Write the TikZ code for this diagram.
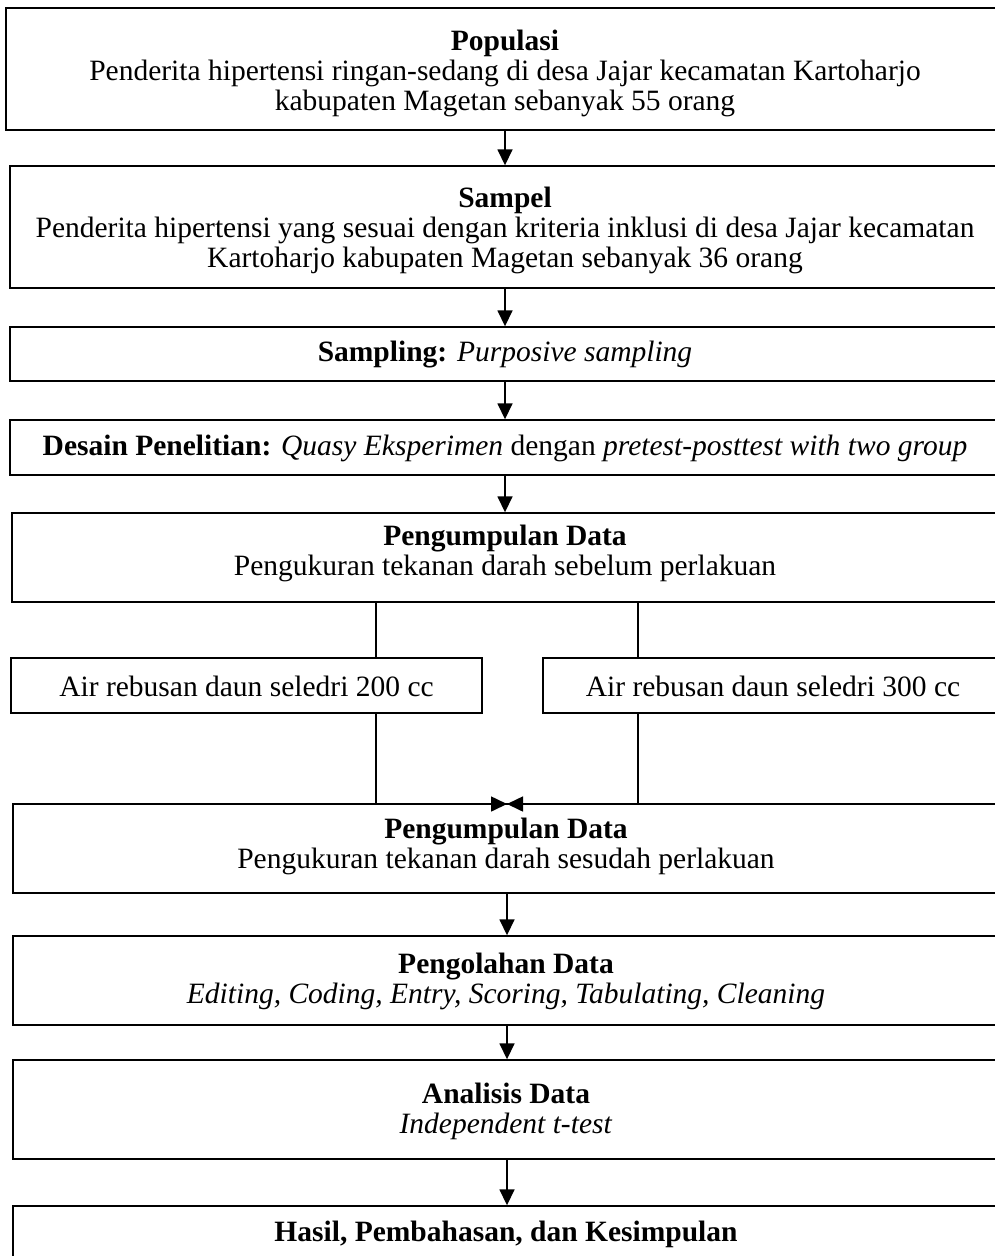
\documentclass[tikz,border=0pt]{standalone}
\usepackage{fontspec}
\setmainfont{Liberation Serif}
\usetikzlibrary{arrows.meta}
\begin{document}
\begin{tikzpicture}[x=1pt,y=-1pt,
  box/.style={draw,line width=1.4pt,rectangle,inner sep=0pt},
  txt/.style={inner sep=0pt,align=center,font=\fontsize{29.5}{30}\selectfont},
  arr/.style={line width=1.6pt,-{Triangle[length=16pt,width=15pt]}},
  conn/.style={line width=1.4pt}]
\useasboundingbox (0,0) rectangle (995,1256);
\clip (0,0) rectangle (995,1256);
% boxes
\node[box,minimum width=998pt,minimum height=122pt] (b1) at (505,69) {};
\node[box,minimum width=990pt,minimum height=122pt] (b2) at (505,227) {};
\node[box,minimum width=990pt,minimum height=54pt] (b3) at (505,354) {};
\node[box,minimum width=990pt,minimum height=55pt] (b4) at (505,447.5) {};
\node[box,minimum width=988pt,minimum height=89pt] (b5) at (506,557.5) {};
\node[box,minimum width=471pt,minimum height=55pt] (lb) at (246.5,685.5) {};
\node[box,minimum width=460pt,minimum height=55pt] (rb) at (773,685.5) {};
\node[box,minimum width=987pt,minimum height=89pt] (b6) at (506.5,848.5) {};
\node[box,minimum width=987pt,minimum height=89pt] (b7) at (506.5,980.5) {};
\node[box,minimum width=987pt,minimum height=99pt] (b8) at (506.5,1109.5) {};
\node[box,minimum width=987pt,minimum height=56pt] (b9) at (506.5,1234) {};
% texts
\node[txt] (t1) at (505,73)
  {\textbf{Populasi}\\Penderita hipertensi ringan-sedang di desa Jajar kecamatan Kartoharjo\\kabupaten Magetan sebanyak 55 orang};
\node[txt] (t2) at (505,230)
  {\textbf{Sampel}\\Penderita hipertensi yang sesuai dengan kriteria inklusi di desa Jajar kecamatan\\Kartoharjo kabupaten Magetan sebanyak 36 orang};
\node[txt] (t3) at (505,355)
  {\textbf{Sampling:} \textit{Purposive sampling}};
\node[txt] (t4) at (505,448)
  {\textbf{Desain Penelitian:} \textit{Quasy Eksperimen} dengan \textit{pretest-posttest with two group}};
\node[txt] (t5) at (505,553)
  {\textbf{Pengumpulan Data}\\Pengukuran tekanan darah sebelum perlakuan};
\node[txt] (tl) at (246.5,686)
  {Air rebusan daun seledri 200 cc};
\node[txt] (tr) at (773,686)
  {Air rebusan daun seledri 300 cc};
\node[txt] (t6) at (506,846)
  {\textbf{Pengumpulan Data}\\Pengukuran tekanan darah sesudah perlakuan};
\node[txt] (t7) at (506,981)
  {\textbf{Pengolahan Data}\\\textit{Editing, Coding, Entry, Scoring, Tabulating, Cleaning}};
\node[txt] (t8) at (506,1111)
  {\textbf{Analisis Data}\\\textit{Independent t-test}};
\node[txt] (t9) at (506,1234)
  {\textbf{Hasil, Pembahasan, dan Kesimpulan}};
% connectors
\coordinate (ax) at (505,0);
\coordinate (lx) at (376,0);
\coordinate (rx) at (638,0);
\coordinate (m) at (507,804);
\draw[arr] (b1.south -| ax) -- (b2.north -| ax);
\draw[arr] (b2.south -| ax) -- (b3.north -| ax);
\draw[arr] (b3.south -| ax) -- (b4.north -| ax);
\draw[arr] (b4.south -| ax) -- (b5.north -| ax);
\draw[conn] (b5.south -| lx) -- (lb.north -| lx);
\draw[conn] (b5.south -| rx) -- (rb.north -| rx);
\draw[arr] (lb.south -| lx) |- (m);
\draw[arr] (rb.south -| rx) |- (m);
\draw[arr] (b6.south -| m) -- (b7.north -| m);
\draw[arr] (b7.south -| m) -- (b8.north -| m);
\draw[arr] (b8.south -| m) -- (b9.north -| m);
\end{tikzpicture}
\end{document}
